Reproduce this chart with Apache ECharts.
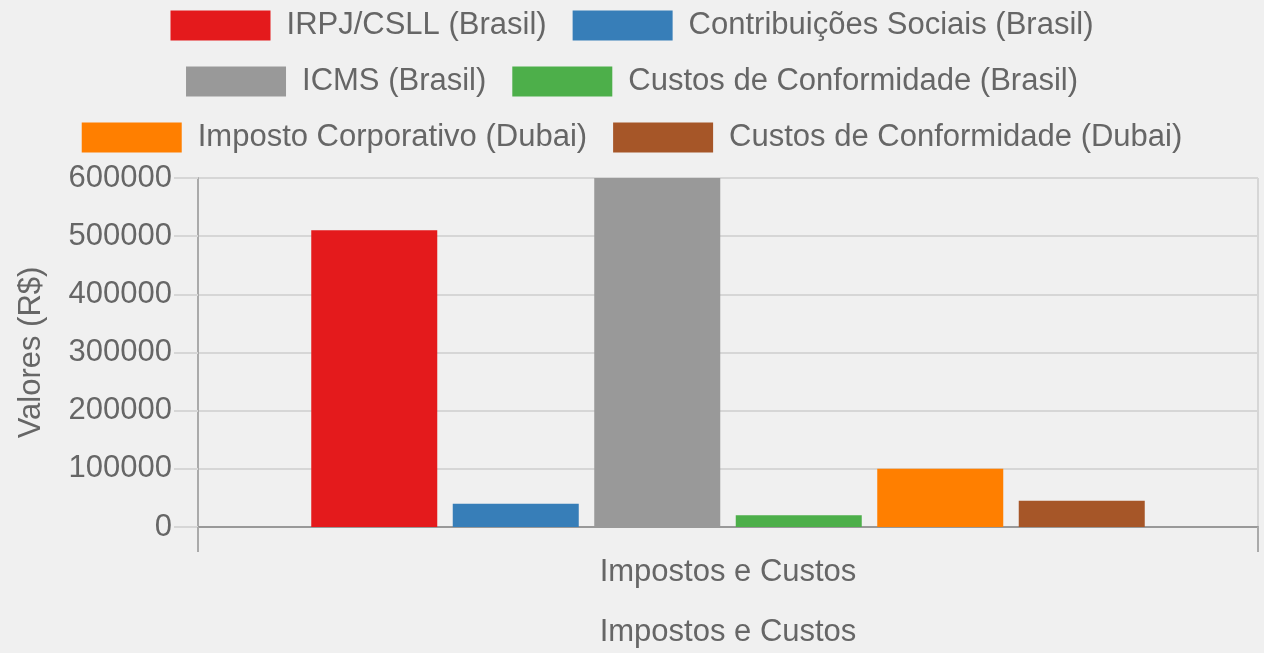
<!DOCTYPE html>
<html>
<head>
<meta charset="utf-8">
<script src="https://cdn.jsdelivr.net/npm/echarts@6/dist/echarts.min.js"></script>
<style>
  html, body { margin: 0; padding: 0; background: #f0f0f0; }
  #main { width: 1264px; height: 653px; }
</style>
</head>
<body>
<div id="main"></div>
<script>
// dados do grafico
const categories = ['Impostos e Custos']
const seriesNames = [
  'IRPJ/CSLL (Brasil)',
  'Contribuições Sociais (Brasil)',
  'ICMS (Brasil)',
  'Custos de Conformidade (Brasil)',
  'Imposto Corporativo (Dubai)',
  'Custos de Conformidade (Dubai)'
]
const seriesValues = [510000, 40000, 600000, 20000, 100000, 45000]
const colors = ['#e41a1c', '#377eb8', '#999999', '#4daf4a', '#ff7f00', '#a65628']
const yTicks = [0, 100000, 200000, 300000, 400000, 500000, 600000]

const fontFamily = '"Liberation Sans", Arial, sans-serif'
const textColor = '#666'

const chart = echarts.init(document.getElementById('main'))

// uma legenda por linha
function legendRow(names, top) {
  return {
    data: names,
    top: top,
    left: 'center',
    itemWidth: 100,
    itemHeight: 30,
    itemGap: 26,
    icon: 'rect',
    textStyle: {
      fontFamily: fontFamily,
      fontSize: 31,
      color: textColor,
      padding: [0, 0, 0, 11]
    }
  }
}

const option = {
  backgroundColor: '#f0f0f0',
  color: colors,
  animation: false,
  legend: [
    legendRow(seriesNames.slice(0, 2), 5),
    legendRow(seriesNames.slice(2, 4), 61),
    legendRow(seriesNames.slice(4, 6), 117)
  ],
  grid: {
    left: 198,
    right: 6,
    top: 178,
    bottom: 126,
    outerBoundsMode: 'none'
  },
  xAxis: {
    type: 'category',
    data: categories,
    name: 'Impostos e Custos',
    nameLocation: 'middle',
    nameGap: 90,
    nameTextStyle: { fontFamily: fontFamily, fontSize: 31, color: textColor },
    axisLine: { lineStyle: { color: '#999', width: 2 } },
    axisTick: { show: true, length: 25, lineStyle: { color: '#aaa', width: 2 } },
    axisLabel: { margin: 30, fontFamily: fontFamily, fontSize: 31, color: textColor },
    splitLine: { show: true, lineStyle: { color: '#d6d6d6', width: 2 } }
  },
  yAxis: {
    type: 'value',
    min: yTicks[0],
    max: yTicks[yTicks.length - 1],
    interval: yTicks[1] - yTicks[0],
    name: 'Valores (R$)',
    nameLocation: 'middle',
    nameGap: 151,
    nameTextStyle: { fontFamily: fontFamily, fontSize: 31, color: textColor },
    axisLine: { show: true, lineStyle: { color: '#aaa', width: 2 } },
    axisTick: { show: true, length: 24, lineStyle: { color: '#d6d6d6', width: 2 } },
    axisLabel: {
      margin: 26,
      fontFamily: fontFamily,
      fontSize: 31,
      color: textColor,
      formatter: v => String(v)
    },
    splitLine: { show: true, lineStyle: { color: '#d6d6d6', width: 2 } }
  },
  series: seriesNames.map((name, i) => ({
    name: name,
    type: 'bar',
    data: [seriesValues[i]],
    barWidth: 126,
    barGap: '12.3%'
  }))
}

chart.setOption(option)
</script>
</body>
</html>
